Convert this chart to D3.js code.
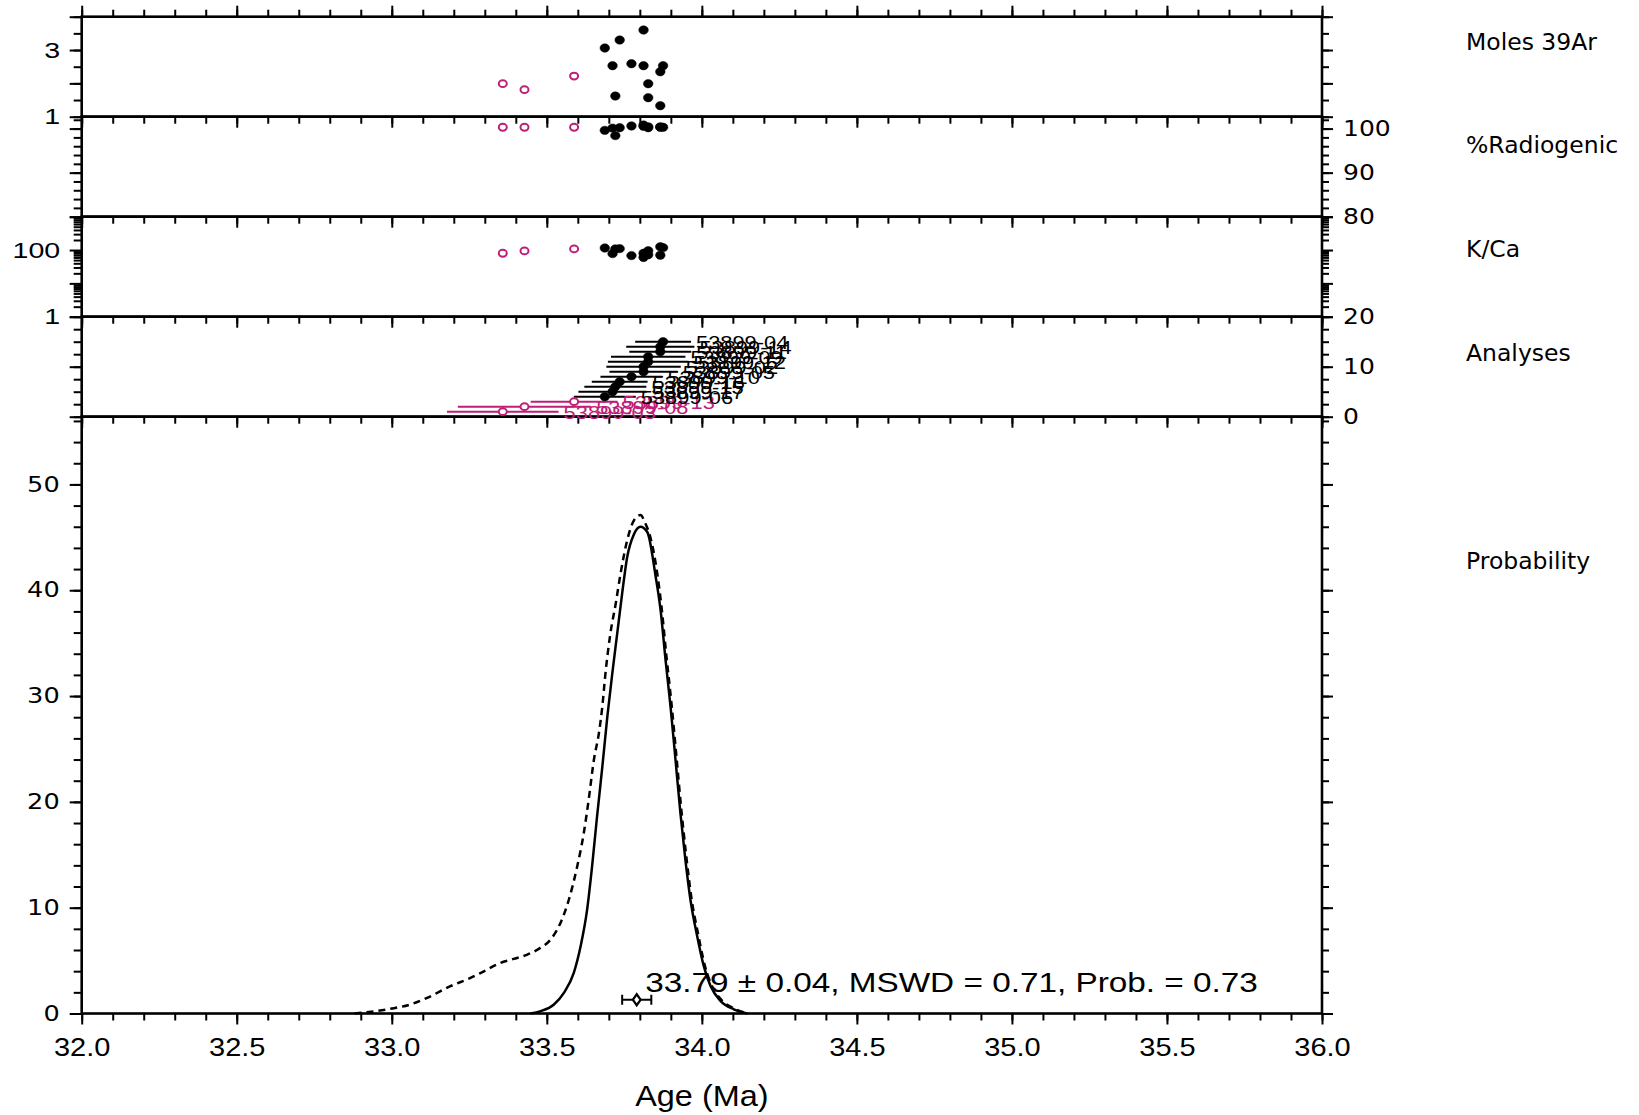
<!DOCTYPE html>
<html>
<head>
<meta charset="utf-8">
<script src="https://cdn.jsdelivr.net/npm/d3@7"></script>
<style>
  body { margin: 0; background: #fff; }
  svg text { fill: #000; }
</style>
</head>
<body>
<svg id="chart" width="1639" height="1115"></svg>
<script>
// analyses, sorted by age (index 1..15 on the Analyses panel)
const runIds = ["53899-03","53899-08","53899-13","53899-06","53899-17","53899-15","53899-16","53899-10",
                "53899-05","53899-02","53899-12","53899-09","53899-11","53899-14","53899-04"];
const ages = [33.358,33.428,33.588,33.687,33.712,33.721,33.735,33.773,33.812,33.812,33.827,33.827,33.866,33.866,33.875];
const ageErr = [0.18,0.215,0.14,0.10,0.11,0.10,0.09,0.10,0.11,0.12,0.13,0.12,0.10,0.11,0.09];
const included = [false,false,false,true,true,true,true,true,true,true,true,true,true,true,true];
const moles39 = [1.99,1.81,2.22,3.06,2.53,1.62,3.30,2.59,3.60,2.53,1.99,1.57,2.35,1.33,2.53];
const radiogenic = [100.3,100.3,100.3,99.6,100.1,98.4,100.2,100.6,100.8,100.5,100.4,100.2,100.3,100.4,100.3];
const kca = [80,94,108,115,78,108,110,68,60,80,95,72,125,70,118];

// probability curves
const solidAge = [33.447,33.480,33.523,33.555,33.587,33.609,33.630,33.646,33.662,33.679,33.695,33.711,33.727,33.743,
                  33.759,33.781,33.802,33.824,33.851,33.867,33.883,33.899,33.915,33.931,33.947,33.963,33.985,34.006,
                  34.028,34.060,34.103,34.146];
const solidVal = [0,0.22,0.85,1.95,3.84,6.35,9.81,13.9,18.6,23.3,28.0,32.1,35.9,39.7,43.1,45.3,46.0,45.5,41.3,38.1,
                  33.4,29.0,24.0,18.9,14.5,10.8,7.3,4.5,2.6,1.2,0.4,0];
const dashAge = [32.88,32.995,33.06,33.114,33.189,33.254,33.297,33.350,33.393,33.437,33.479,33.512,33.544,33.571,
                 33.598,33.619,33.635,33.652,33.668,33.679,33.689,33.705,33.722,33.738,33.759,33.781,33.802,33.818,
                 33.834,33.856,33.870,33.886,33.902,33.918,33.934,33.950,33.966,33.988,34.009,34.031,34.063,34.106,34.150];
const dashVal = [0,0.44,0.85,1.48,2.58,3.36,3.99,4.78,5.16,5.57,6.2,6.98,8.55,10.75,13.9,17.0,20.2,24.0,26.5,29.0,
                 32.1,35.9,38.7,41.6,44.7,46.6,47.1,46.3,45.0,41.6,38.4,33.7,29.3,24.3,19.2,14.8,11.0,7.5,4.6,2.7,
                 1.3,0.45,0];

// weighted mean
const meanAge = 33.79, meanErr = 0.047, meanY = 1.3;
const meanText = "33.79 \u00b1 0.04, MSWD = 0.71, Prob. = 0.73";

// ticks
const xMajor = [32,32.5,33,33.5,34,34.5,35,35.5,36];
const xMinor = d3.range(0, 41).map(i => 32 + i * 0.1);
const molesMajor = [1,2,3,4], molesMinor = [1,1.5,2,2.5,3,3.5,4], molesLabels = [1,3];
const radMajor = [80,90,100], radMinor = [80,82,84,86,88,90,92,94,96,98,100,102];
const kcaMajor = [1,10,100,1000], kcaLabels = [1,100];
const kcaMinor = [1,10,100].flatMap(d => [2,3,4,5,6,7,8,9].map(m => m * d));
const anMajor = [0,10,20], anMinor = [0,2.5,5,7.5,10,12.5,15,17.5,20];
const probMajor = [0,10,20,30,40,50], probMinor = d3.range(0, 57, 2);

const panelTitles = ["Moles 39Ar","%Radiogenic","K/Ca","Analyses","Probability"];
const titleBase = [50,153.3,256.7,361,568.5];

const magenta = "#be1e78";
const xL = 81.7, xR = 1322;
const tops = [16.7,116.7,216.7,316.7,416.7], probBottom = 1013.5;

const svg = d3.select("#chart");

const x = d3.scaleLinear().domain([32,36]).range([xL,xR]);
const yMoles = d3.scaleLinear().domain([1,4]).range([tops[1],tops[0]]);
const yRad = d3.scaleLinear().domain([80,102.7]).range([tops[2],tops[1]]);
const yKca = d3.scaleLog().domain([1,1000]).range([tops[3],tops[2]]);
const yAn = d3.scaleLinear().domain([0,20]).range([tops[4],tops[3]]);
const yProb = d3.scaleLinear().domain([0,56.4]).range([probBottom,tops[4]]);

// text in the picture is a bit wider than the fonts here, so stretch it
function stretch(sel, sx) {
  sel.each(function() {
    const t = d3.select(this);
    const tx = +t.attr("x") || 0, ty = +t.attr("y") || 0;
    t.attr("x", 0).attr("y", 0).attr("transform", `translate(${tx},${ty}) scale(${sx},1)`);
  });
}

function yAxis(scale, side, majors, minors, labels, o) {
  const isLeft = side === "left";
  const make = isLeft ? d3.axisLeft : d3.axisRight;
  const g = svg.append("g").attr("transform", `translate(${isLeft ? xL : xR},0)`);
  g.append("g").call(make(scale).tickValues(minors).tickSize(isLeft ? 8 : 7).tickFormat(""));
  const mj = g.append("g").call(make(scale).tickValues(majors).tickSize(isLeft ? 12 : 11)
    .tickPadding(o.pad).tickFormat(d => labels.includes(d) ? String(d) : ""));
  g.selectAll(".domain").remove();
  g.selectAll("line").attr("stroke", "#000").attr("stroke-width", 2);
  mj.selectAll("text").attr("font-family", o.font).attr("font-size", o.size).attr("fill", "#000")
    .call(stretch, o.sx);
}

function xAxis(yPos, dir, withLabels) {
  const make = dir === "up" ? d3.axisTop : d3.axisBottom;
  const g = svg.append("g").attr("transform", `translate(0,${yPos})`);
  g.append("g").call(make(x).tickValues(xMinor).tickSize(7).tickFormat(""));
  const mj = g.append("g").call(make(x).tickValues(xMajor).tickSize(11)
    .tickFormat(withLabels ? d3.format(".1f") : () => ""));
  g.selectAll(".domain").remove();
  g.selectAll("line").attr("stroke", "#000").attr("stroke-width", 2);
  if (withLabels) {
    mj.selectAll("text").attr("font-family", "Liberation Sans, Arial, sans-serif").attr("font-size", 25)
      .attr("fill", "#000").attr("y", 42.5).attr("dy", null).call(stretch, 1.16);
  }
}

// x axes: top of first panel up, every panel's bottom down
xAxis(tops[0], "up", false);
[tops[1], tops[2], tops[3], tops[4]].forEach(b => xAxis(b, "down", false));
xAxis(probBottom, "down", true);

const leftHelv = {font: "Liberation Sans, Arial, sans-serif", size: 22.5, sx: 1.27, pad: 9.5};
const leftVer = {font: "DejaVu Sans, Verdana, sans-serif", size: 21, sx: 1.22, pad: 10};
const rightVer = {font: "DejaVu Sans, Verdana, sans-serif", size: 21, sx: 1.19, pad: 10};

yAxis(yMoles, "left", molesMajor, molesMinor, molesLabels, leftHelv);
yAxis(yMoles, "right", molesMajor, molesMinor, [], rightVer);
yAxis(yRad, "left", radMajor, radMinor, [], leftHelv);
yAxis(yRad, "right", radMajor, radMinor, radMajor, rightVer);
yAxis(yKca, "left", kcaMajor, kcaMinor, kcaLabels, leftHelv);
yAxis(yKca, "right", kcaMajor, kcaMinor, [], rightVer);
yAxis(yAn, "left", anMajor, anMinor, [], leftHelv);
yAxis(yAn, "right", anMajor, anMinor, anMajor, rightVer);
yAxis(yProb, "left", probMajor, probMinor, probMajor, leftVer);
yAxis(yProb, "right", probMajor, probMinor, [], rightVer);

// panel frames
const frames = tops.map((t, i) => ({top: t, bottom: i < 4 ? tops[i + 1] : probBottom}));
svg.append("g").selectAll("rect").data(frames).enter().append("rect")
  .attr("x", xL).attr("y", d => d.top).attr("width", xR - xL).attr("height", d => d.bottom - d.top)
  .attr("fill", "none").attr("stroke", "#000").attr("stroke-width", 2.6);

// panel titles
svg.append("g").selectAll("text").data(panelTitles).enter().append("text")
  .attr("x", 1466).attr("y", (d, i) => titleBase[i])
  .attr("font-family", "DejaVu Sans, Verdana, sans-serif").attr("font-size", 23.5)
  .text(d => d);

const rows = ages.map((a, i) => ({
  age: a, err: ageErr[i], inc: included[i], id: runIds[i], n: i + 1,
  moles: moles39[i], rad: radiogenic[i], kca: kca[i]
}));

function dots(g, yScale, key) {
  g.selectAll("ellipse").data(rows).enter().append("ellipse")
    .attr("cx", d => x(d.age)).attr("cy", d => yScale(d[key]))
    .attr("rx", d => d.inc ? 4.8 : 4).attr("ry", d => d.inc ? 4.2 : 3.4)
    .attr("fill", d => d.inc ? "#000" : "#fff")
    .attr("stroke", d => d.inc ? "#000" : magenta)
    .attr("stroke-width", d => d.inc ? 0.5 : 2);
}

dots(svg.append("g"), yMoles, "moles");
dots(svg.append("g"), yRad, "rad");
dots(svg.append("g"), yKca, "kca");

// analyses panel: error bars, labels, points
const an = svg.append("g");
an.selectAll("line").data(rows).enter().append("line")
  .attr("x1", d => x(d.age - d.err)).attr("x2", d => x(d.age + d.err))
  .attr("y1", d => yAn(d.n)).attr("y2", d => yAn(d.n))
  .attr("stroke", d => d.inc ? "#000" : magenta).attr("stroke-width", 2);
an.selectAll("text").data(rows).enter().append("text")
  .attr("x", d => x(d.age + d.err) + 5).attr("y", d => yAn(d.n))
  .attr("dy", "0.36em")
  .attr("font-family", "Liberation Sans, Arial, sans-serif").attr("font-size", 19)
  .style("fill", d => d.inc ? "#000" : magenta)
  .text(d => d.id)
  .call(stretch, 1.15);
dots(an.append("g"), yAn, "n");

// probability curves
const line = d3.line().x(d => x(d[0])).y(d => yProb(d[1])).curve(d3.curveMonotoneX);
svg.append("path").datum(dashAge.map((a, i) => [a, dashVal[i]]))
  .attr("d", line).attr("fill", "none").attr("stroke", "#000")
  .attr("stroke-width", 2.5).attr("stroke-dasharray", "7,5");
svg.append("path").datum(solidAge.map((a, i) => [a, solidVal[i]]))
  .attr("d", line).attr("fill", "none").attr("stroke", "#000").attr("stroke-width", 2.5);

// weighted mean marker
const mg = svg.append("g");
const my = yProb(meanY);
mg.append("line").attr("x1", x(meanAge - meanErr)).attr("x2", x(meanAge + meanErr))
  .attr("y1", my).attr("y2", my).attr("stroke", "#000").attr("stroke-width", 2);
[meanAge - meanErr, meanAge + meanErr].forEach(a => {
  mg.append("line").attr("x1", x(a)).attr("x2", x(a)).attr("y1", my - 5).attr("y2", my + 5)
    .attr("stroke", "#000").attr("stroke-width", 2);
});
mg.append("path").attr("d", d3.symbol(d3.symbolDiamond).size(36)())
  .attr("transform", `translate(${x(meanAge)},${my}) scale(1.2,1)`)
  .attr("fill", "#fff").attr("stroke", "#000").attr("stroke-width", 2);

svg.append("text").attr("x", x(meanAge) + 8.5).attr("y", 991.5)
  .attr("font-family", "Liberation Sans, Arial, sans-serif").attr("font-size", 28)
  .text(meanText).call(stretch, 1.19);

// x axis title
svg.append("text").attr("x", (xL + xR) / 2).attr("y", 1106)
  .attr("text-anchor", "middle")
  .attr("font-family", "Liberation Sans, Arial, sans-serif").attr("font-size", 30)
  .text("Age (Ma)").call(stretch, 1.08);
</script>
</body>
</html>
